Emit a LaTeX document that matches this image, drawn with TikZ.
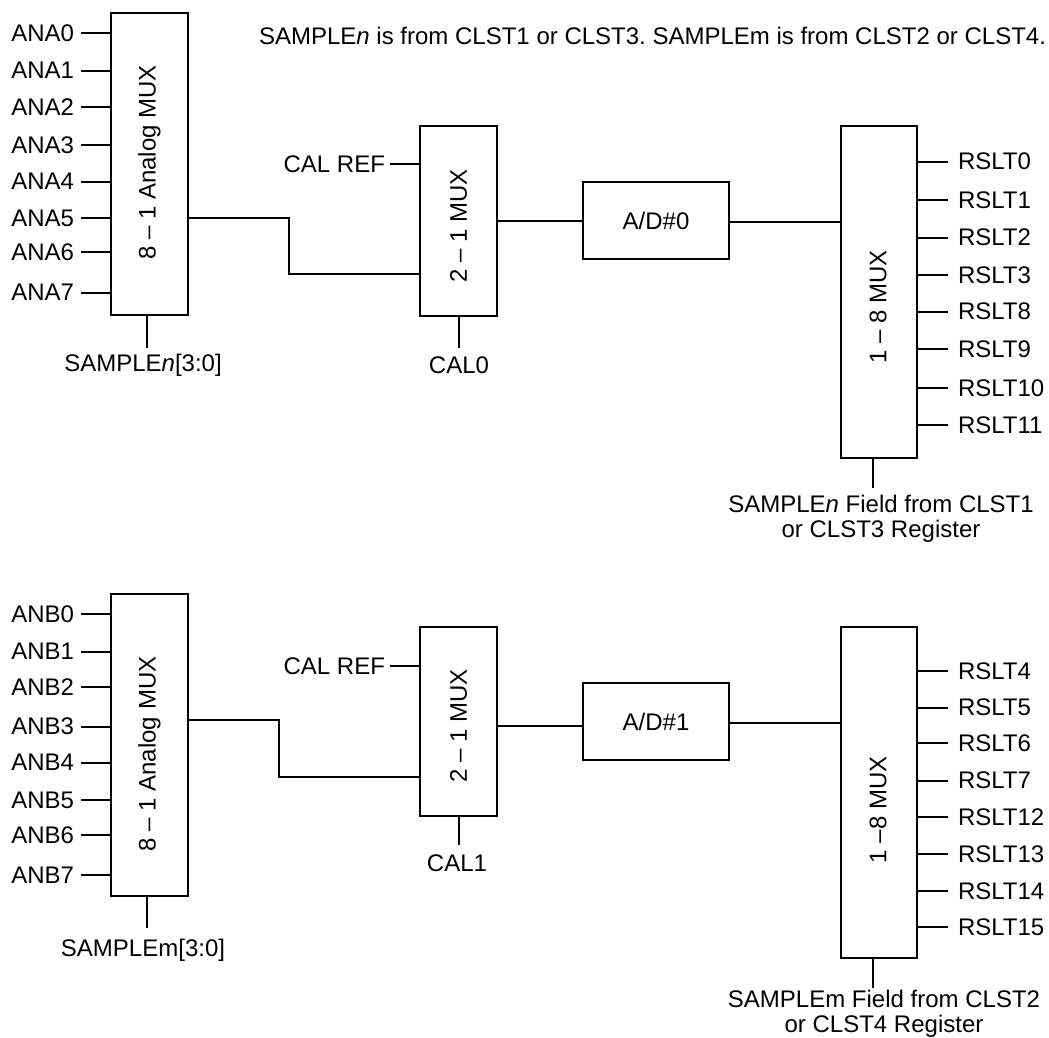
\documentclass[tikz,border=0pt]{standalone}
\usepackage{fontspec}
\setmainfont{Liberation Sans}
\frenchspacing
\begin{document}
\begin{tikzpicture}[x=1pt,y=-1pt, line width=2pt,
  every node/.style={font=\fontsize{24}{25}\selectfont},
  box/.style={draw, line width=2pt, inner sep=0pt, minimum width=77pt},
  lblL/.style={anchor=east, inner sep=0pt, outer xsep=7pt},
  lblR/.style={anchor=west, inner sep=0pt, outer xsep=10pt},
  lblB/.style={anchor=north, inner sep=0pt, align=center},
  rot/.style={rotate=90, inner sep=0pt}]
\useasboundingbox (0,0) rectangle (1049,1038);

% ---------------- title
\node[anchor=east, inner sep=0pt] (title) at (1047,36)
  {SAMPLE\textit{n} is from CLST1 or CLST3. SAMPLEm is from CLST2 or CLST4.};

% ================= top channel
\node[box, minimum height=302pt] (A1) at (149.5,164) {};
\node[rot] (A1t) at (149.5,162.5) {8 – 1 Analog MUX};
\node[box, minimum height=190pt] (M1) at (458.5,221) {};
\node[rot] (M1t) at (458.5,226) {2 – 1 MUX};
\node[box, minimum width=146pt, minimum height=77pt] (AD0) at (656,220.5) {A/D\#0};
\node[box, minimum width=76pt, minimum height=332pt] (R1) at (879,292) {};
\node[rot] (R1t) at (878,307) {1 – 8 MUX};

\foreach \i/\y in {0/33.3,1/70.7,2/106.7,3/145.3,4/181.7,5/218.3,6/252.3,7/292.7}{
  \node[lblL] (a\i) at (81,\y) {ANA\i};
  \draw (a\i.east) -- (a\i.east -| A1.west);
}
\coordinate (j1) at (289,218.3);
\coordinate (m1in) at ([yshift=-53pt]M1.west);
\draw (A1.east |- a5.east) -| (j1) |- (m1in);

\node[lblL, outer xsep=5pt] (cr1) at (390,164.3) {CAL REF};
\draw (cr1.east) -- (cr1.east -| M1.west);

\node[lblB, outer ysep=6pt] (s0) at (143,348) {SAMPLE\textit{n}[3:0]};
\draw ([xshift=-2.8pt]A1.south) -- ([xshift=-2.8pt]A1.south |- s0.north);
\node[lblB, outer ysep=9pt] (c0) at (459,348) {CAL0};
\draw (M1.south) -- (M1.south |- c0.north);

\draw ([yshift=0.3pt]M1.east) -- ([yshift=0.3pt]M1.east -| AD0.west);
\draw ([yshift=-1.2pt]AD0.east) -- ([yshift=-1.2pt]AD0.east -| R1.west);

\foreach \n/\y in {0/161.7,1/200,2/237.7,3/275,8/311.7,9/349.3,10/388.3,11/425}{
  \node[lblR] (r\n) at (948,\y) {RSLT\n};
  \draw (r\n.west) -- (r\n.west -| R1.east);
}
\node[lblB, outer ysep=7pt] (f0) at (881,488) {SAMPLE\textit{n} Field from CLST1\\or CLST3 Register};
\draw ([xshift=-6.3pt]R1.south) -- ([xshift=-6.3pt]R1.south |- f0.north);

% ================= bottom channel
\node[box, minimum height=302pt] (A2) at (149.5,745) {};
\node[rot] (A2t) at (149.5,754) {8 – 1 Analog MUX};
\node[box, minimum height=189pt] (M2) at (458.5,721.5) {};
\node[rot] (M2t) at (458.5,726) {2 – 1 MUX};
\node[box, minimum width=146pt, minimum height=77pt] (AD1) at (656,721.5) {A/D\#1};
\node[box, minimum width=76pt, minimum height=331pt] (R2) at (879,792.5) {};
\node[rot] (R2t) at (878,809.7) {1 –8 MUX};

\foreach \i/\y in {0/614.3,1/651.7,2/686.7,3/726.7,4/762.7,5/800,6/835,7/875}{
  \node[lblL] (b\i) at (81,\y) {ANB\i};
  \draw (b\i.east) -- (b\i.east -| A2.west);
}
\coordinate (a2out) at ([yshift=25pt]A2.east);
\coordinate (j2) at (279.3,720);
\coordinate (m2in) at ([yshift=-55.5pt]M2.west);
\draw (a2out) -| (j2) |- (m2in);

\node[lblL, outer xsep=5pt] (cr2) at (390,666) {CAL REF};
\draw (cr2.east) -- (cr2.east -| M2.west);

\node[lblB, outer ysep=11pt] (s1) at (143,928.3) {SAMPLEm[3:0]};
\draw ([xshift=-2.8pt]A2.south) -- ([xshift=-2.8pt]A2.south |- s1.north);
\node[lblB, outer ysep=10pt] (c1) at (457,845) {CAL1};
\draw (M2.south) -- (M2.south |- c1.north);

\draw ([yshift=-4.5pt]M2.east) -- ([yshift=-4.5pt]M2.east -| AD1.west);
\draw ([yshift=-1.2pt]AD1.east) -- ([yshift=-1.2pt]AD1.east -| R2.west);

\foreach \n/\y in {4/671,5/707.7,6/743.3,7/780.7,12/817.3,13/854.3,14/891,15/927}{
  \node[lblR] (r\n) at (948,\y) {RSLT\n};
  \draw (r\n.west) -- (r\n.west -| R2.east);
}
\node[lblB, outer ysep=2.3pt] (f1) at (884,987.7) {SAMPLEm Field from CLST2\\or CLST4 Register};
\draw ([xshift=-6.3pt]R2.south) -- ([xshift=-6.3pt]R2.south |- f1.north);
\end{tikzpicture}
\end{document}
